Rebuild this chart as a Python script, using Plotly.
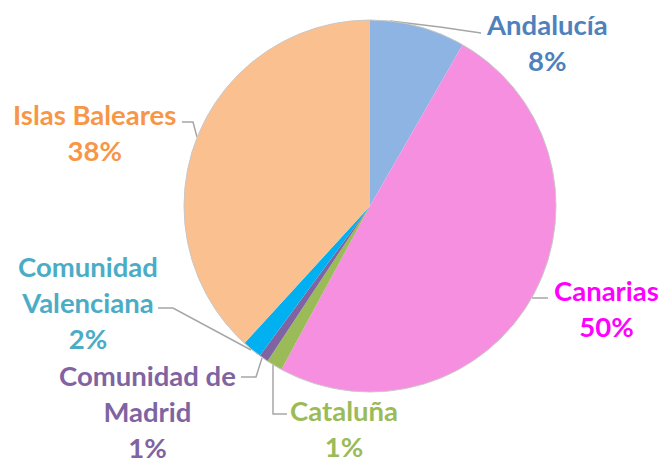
import plotly.graph_objects as go

# ---- data ----
regions = ["Andalucía", "Canarias", "Cataluña", "Comunidad de Madrid",
           "Comunidad Valenciana", "Islas Baleares"]
values = [8.3, 49.6, 1.4, 0.8, 1.7, 38.2]
label_text = ["Andalucía", "Canarias", "Cataluña", "Comunidad de<br>Madrid",
              "Comunidad<br>Valenciana", "Islas Baleares"]

slice_colors = ["#8EB4E3", "#F68FDF", "#9BBB59", "#8064A2", "#00B0F0", "#FAC090"]
text_colors = ["#4F81BD", "#FF00FF", "#9BBB59", "#8064A2", "#4BACC6", "#F79646"]

W, H = 662, 464
CX, CY, R = 370, 206, 186


def px(x):
    return x / W


def py(y):
    return 1 - y / H


# label block centres (pixels)
label_pos = [(547, 42), (606, 308), (344, 428), (147, 411), (88, 302), (94, 132)]
# leader lines (pixels)
leaders = [
    [(390, 21), (440, 27), (481, 33)],
    [(532, 298), (548, 298)],
    [(273, 364), (273, 414), (287, 414)],
    [(262, 358), (256, 377), (241, 377)],
    [(251, 350), (173, 308), (158, 308)],
    [(197, 137), (193, 122), (182, 122)],
]

total = sum(values)
fig = go.Figure(go.Pie(
    labels=regions,
    values=values,
    sort=False,
    direction="clockwise",
    rotation=0,
    marker=dict(colors=slice_colors, line=dict(width=0)),
    textinfo="none",
    hoverinfo="label+percent",
    showlegend=False,
    domain=dict(x=[px(CX - R), px(CX + R)], y=[py(CY + R), py(CY - R)]),
))

annotations = []
for name, v, (lx, ly), col in zip(label_text, values, label_pos, text_colors):
    pct = f"{round(v / total * 100)}%"
    annotations.append(dict(
        text=f"{name}<br>{pct}", x=px(lx), y=py(ly), xref="paper", yref="paper",
        xanchor="center", yanchor="middle", showarrow=False, align="center",
        font=dict(family="Lato", size=27.5, color=col, weight=700),
    ))

shapes = []
for pts in leaders:
    path = "M " + " L ".join(f"{px(x)},{py(y)}" for x, y in pts)
    shapes.append(dict(type="path", path=path, xref="paper", yref="paper",
                       line=dict(color="#A6A6A6", width=1.5)))
shapes.append(dict(type="circle", xref="paper", yref="paper",
                   x0=px(CX - R), x1=px(CX + R), y0=py(CY + R), y1=py(CY - R),
                   line=dict(color="#C8C8C8", width=1)))

fig.update_layout(
    width=W, height=H,
    margin=dict(l=0, r=0, t=0, b=0),
    paper_bgcolor="white", plot_bgcolor="white",
    annotations=annotations, shapes=shapes,
)

fig.write_html("out.html", config={"displayModeBar": False},
               post_script="document.body.style.margin='0';document.body.style.overflow='hidden';")
